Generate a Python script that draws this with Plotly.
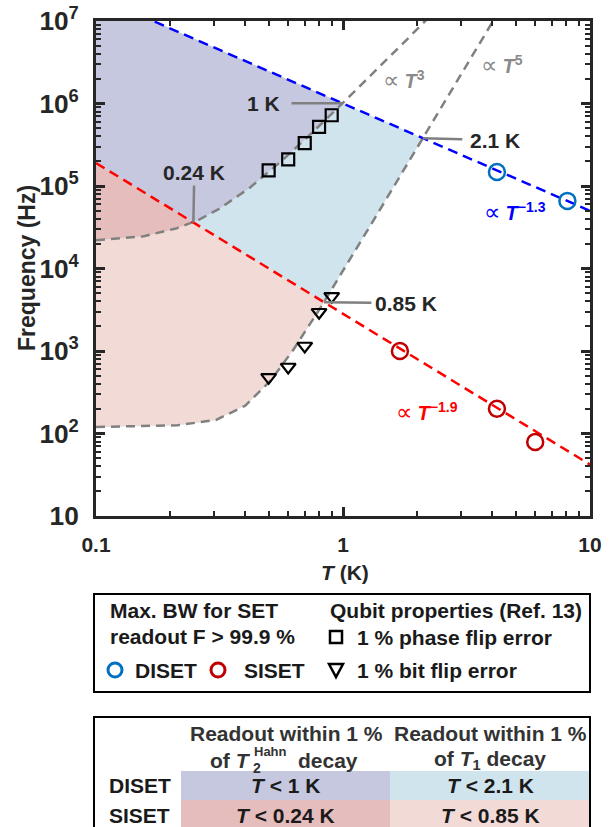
import numpy as np
import plotly.graph_objects as go

# ---------------- data ----------------
# qubit properties (Ref. 13)
T_phase = [0.5, 0.6, 0.7, 0.8, 0.9]
f_phase = [1.55e5, 2.1e5, 3.3e5, 5.2e5, 7.2e5]
T_bit = [0.5, 0.6, 0.7, 0.8, 0.9]
f_bit = [480, 640, 1150, 2950, 4600]
# max. bandwidth for SET readout
T_diset = [4.2, 8.1]
f_diset = [1.48e5, 6.6e4]
T_siset = [1.7, 4.2, 6.0]
f_siset = [1000, 200, 79]
# power-law fits (end points of the dashed lines)
T_fit_diset = [0.1, 10]
f_fit_diset = [2.0e7, 5.0e4]
T_fit_siset = [0.1, 10]
f_fit_siset = [1.9e5, 42]
# 1 % phase flip error curve (T2 Hahn), ~T^3 at high T
T_curve_T2 = [0.1, 0.15, 0.2, 0.25, 0.3, 0.4, 0.5, 0.6, 0.7, 0.8, 0.9, 1.0, 1.3, 1.7, 2.2]
f_curve_T2 = [2.2e4, 2.4e4, 2.9e4, 3.65e4, 4.8e4, 8.5e4, 1.46e5, 2.37e5, 3.64e5,
              5.3e5, 7.5e5, 1.02e6, 2.2e6, 4.9e6, 1.07e7]
# 1 % bit flip error curve (T1), ~T^5 at high T
T_curve_T1 = [0.1, 0.2, 0.3, 0.4, 0.5, 0.6, 0.7, 0.8, 0.9, 1.0, 1.5, 2.0, 3.0, 4.1]
f_curve_T1 = [120, 123, 142, 214, 408, 836, 1670, 3140, 5550, 9300, 7.0e4, 2.95e5, 2.24e6, 1.06e7]

x_tick_vals = [0.1, 1, 10]
y_range_log = [1, 7]

# ---------------- styling ----------------
FONT = "Liberation Sans, Arial, Helvetica, sans-serif"
DARK = "#262626"
C_PURPLE = "#c5c8df"
C_LBLUE = "#d0e4ee"
C_DPINK = "#e6bdbd"
C_LPINK = "#f2dbd6"
C_GRAY = "#808080"
C_DISET = "#0070c0"
C_SISET = "#c00000"

W, H = 615, 827
PL, PR, PT, PB = 96, 590, 21, 516


def xp(px):
    return (px - PL) / (PR - PL)


def yp(py):
    return (PB - py) / (PB - PT)


def loginterp(T, xs, ys):
    return 10 ** np.interp(np.log10(T), np.log10(xs), np.log10(ys))


def crossing(lT, lf, cT, cf):
    T = 10 ** np.linspace(-1, 1, 20001)
    d = np.log10(loginterp(T, lT, lf)) - np.log10(loginterp(T, cT, cf))
    i = np.where((d[:-1] > 0) & (d[1:] <= 0))[0][0]
    return T[i], loginterp(T[i], lT, lf)


def region(lT, lf, cT, cf):
    Tx, _ = crossing(lT, lf, cT, cf)
    Tg = 10 ** np.linspace(-1, np.log10(Tx), 400)
    lo = loginterp(Tg, cT, cf)
    hi = loginterp(Tg, lT, lf)
    return np.concatenate([Tg, Tg[::-1]]), np.concatenate([lo, hi[::-1]])


fig = go.Figure()

# shaded regions
for (lT, lf, cT, cf, col) in [
    (T_fit_diset, f_fit_diset, T_curve_T1, f_curve_T1, C_LBLUE),
    (T_fit_diset, f_fit_diset, T_curve_T2, f_curve_T2, C_PURPLE),
    (T_fit_siset, f_fit_siset, T_curve_T1, f_curve_T1, C_LPINK),
    (T_fit_siset, f_fit_siset, T_curve_T2, f_curve_T2, C_DPINK),
]:
    xs, ys = region(lT, lf, cT, cf)
    fig.add_trace(go.Scatter(x=xs, y=ys, mode="lines", fill="toself", fillcolor=col,
                             line=dict(width=0), hoverinfo="skip", showlegend=False))

# gray model curves
for cT, cf in [(T_curve_T2, f_curve_T2), (T_curve_T1, f_curve_T1)]:
    Tg = 10 ** np.linspace(np.log10(cT[0]), np.log10(cT[-1]), 300)
    fig.add_trace(go.Scatter(x=Tg, y=loginterp(Tg, cT, cf), mode="lines",
                             line=dict(color=C_GRAY, width=2.5, dash="9px,6px"),
                             hoverinfo="skip", showlegend=False))

# fit lines
fig.add_trace(go.Scatter(x=T_fit_diset, y=f_fit_diset, mode="lines",
                         line=dict(color="#0000ff", width=2.5, dash="10px,6px"), showlegend=False))
fig.add_trace(go.Scatter(x=T_fit_siset, y=f_fit_siset, mode="lines",
                         line=dict(color="#ff0000", width=2.5, dash="10px,6px"), showlegend=False))

# markers
fig.add_trace(go.Scatter(x=T_phase, y=f_phase, mode="markers",
                         marker=dict(symbol="square-open", size=12, color="black", line=dict(width=2.2)),
                         showlegend=False))
fig.add_trace(go.Scatter(x=T_bit, y=f_bit, mode="markers",
                         marker=dict(symbol="triangle-down-open", size=13, color="black", line=dict(width=2.2)),
                         showlegend=False))
fig.add_trace(go.Scatter(x=T_diset, y=f_diset, mode="markers",
                         marker=dict(symbol="circle-open", size=16, color=C_DISET, line=dict(width=2.5)),
                         showlegend=False))
fig.add_trace(go.Scatter(x=T_siset, y=f_siset, mode="markers",
                         marker=dict(symbol="circle-open", size=16, color=C_SISET, line=dict(width=2.5)),
                         showlegend=False))

annotations = []


def ann(text, x, y, size=21, color="#1a1a1a", xanchor="center", yanchor="middle", weight="bold", **kw):
    d = dict(text=text, x=xp(x), y=yp(y), xref="paper", yref="paper", showarrow=False,
             xanchor=xanchor, yanchor=yanchor,
             font=dict(family=FONT, size=size, color=color, weight=weight))
    d.update(kw)
    annotations.append(d)


# leader annotations at the intersections
def leader(text, pt, ax, ay, bp):
    Tx, fx = pt
    annotations.append(dict(text=text, x=np.log10(Tx), y=np.log10(fx), xref="x", yref="y",
                            showarrow=True, arrowhead=0, arrowwidth=2.5, arrowcolor=C_GRAY,
                            ax=ax, ay=ay, standoff=0, borderpad=bp,
                            font=dict(family=FONT, size=21, color=DARK, weight="bold")))


leader("1 K", crossing(T_fit_diset, f_fit_diset, T_curve_T2, f_curve_T2), -79, 0, 11)
leader("0.24 K", crossing(T_fit_siset, f_fit_siset, T_curve_T2, f_curve_T2), 1, -50, 1)
leader("2.1 K", crossing(T_fit_diset, f_fit_diset, T_curve_T1, f_curve_T1), 72, 2, 7)
leader("0.85 K", crossing(T_fit_siset, f_fit_siset, T_curve_T1, f_curve_T1), 82, 1, 3)

# power-law labels
ann("<span style='font-size:23px'>∝</span> <b><i>T</i><sup>3</sup></b>", 404, 80, size=20,
    color="#8a8a8a", weight="normal")
ann("<span style='font-size:23px'>∝</span> <b><i>T</i><sup>5</sup></b>", 502, 65, size=20,
    color="#8a8a8a", weight="normal")
ann("<span style='font-size:23px'>∝</span> <b><i>T</i><sup>−1.3</sup></b>", 515, 212, size=20,
    color="#0000ff", weight="normal")
ann("<span style='font-size:23px'>∝</span> <b><i>T</i><sup>−1.9</sup></b>", 427, 412, size=20,
    color="#ff0000", weight="normal")

# axis titles
ann("Frequency (Hz)", 27, 268, size=23, color=DARK, textangle=-90)
ann("<i>T</i> (K)", 345, 572, size=21, color=DARK)

# legend box
ann("Max. BW for SET", 108, 610, xanchor="left")
ann("readout F &gt; 99.9 %", 108, 636, xanchor="left")
ann("DISET", 133, 670, xanchor="left")
ann("SISET", 242, 670, xanchor="left")
ann("Qubit properties (Ref. 13)", 328, 610, xanchor="left")
ann("1 % phase flip error", 355, 637, xanchor="left")
ann("1 % bit flip error", 355, 670, xanchor="left")

# table
ann("Readout within 1 %", 286, 733, color="#333333")
ann("Readout within 1 %", 490, 733, color="#333333")
ann("of <i>T</i>", 253, 760, color="#333333", xanchor="right")
ann("Hahn", 252, 751, size=13, color="#333333", xanchor="left")
ann("2", 251, 768, size=14, color="#333333", xanchor="left")
ann("decay", 296, 760, color="#333333", xanchor="left")
ann("of <i>T</i><sub>1</sub> decay", 490, 760, color="#333333")
ann("DISET", 107, 785, xanchor="left")
ann("SISET", 107, 815, xanchor="left")
ann("<i>T</i> &lt; 1 K", 285, 785)
ann("<i>T</i> &lt; 2.1 K", 490, 785)
ann("<i>T</i> &lt; 0.24 K", 285, 815)
ann("<i>T</i> &lt; 0.85 K", 490, 815)

shapes = []


def rect(x0, y0, x1, y1, fill=None, line=None, lw=0):
    shapes.append(dict(type="rect", xref="paper", yref="paper",
                       x0=xp(x0), x1=xp(x1), y0=yp(y1), y1=yp(y0),
                       fillcolor=fill if fill else "rgba(0,0,0,0)",
                       line=dict(color=line if line else "rgba(0,0,0,0)", width=lw)))


rect(181, 771, 390, 800, fill=C_PURPLE)
rect(390, 771, 590, 800, fill=C_LBLUE)
rect(181, 800, 390, 840, fill=C_DPINK)
rect(390, 800, 590, 840, fill=C_LPINK)
rect(94, 594, 590, 692, line="black", lw=2)
rect(94, 717, 590, 840, line="black", lw=2)

# legend symbols
shapes.append(dict(type="circle", xref="paper", yref="paper", x0=xp(108), x1=xp(122),
                   y0=yp(677), y1=yp(663), line=dict(color=C_DISET, width=3)))
shapes.append(dict(type="circle", xref="paper", yref="paper", x0=xp(211), x1=xp(225),
                   y0=yp(677), y1=yp(663), line=dict(color=C_SISET, width=3)))
rect(330, 631, 342, 643, line="black", lw=2.5)
shapes.append(dict(type="path", xref="paper", yref="paper",
                   path=f"M {xp(329)},{yp(664)} L {xp(343)},{yp(664)} L {xp(336)},{yp(677)} Z",
                   line=dict(color="black", width=2.5)))

axis_common = dict(type="log", showline=True, linecolor=DARK, linewidth=3, mirror="ticks",
                   ticks="inside", ticklen=9, tickwidth=2.5, tickcolor=DARK,
                   showgrid=False, zeroline=False, dtick=1,
                   minor=dict(ticks="inside", ticklen=5, tickwidth=2, tickcolor=DARK,
                              dtick="D1", showgrid=False),
                   tickfont=dict(family=FONT, size=21, color=DARK, weight="bold"))

fig.update_layout(
    width=W, height=H,
    margin=dict(l=PL, r=W - PR, t=PT, b=H - PB, autoexpand=False),
    plot_bgcolor="white", paper_bgcolor="white",
    xaxis=dict(axis_common, range=[np.log10(x_tick_vals[0]), np.log10(x_tick_vals[-1])],
               ticklabelstandoff=8),
    yaxis=dict(axis_common, range=y_range_log, exponentformat="power", showexponent="all",
               ticklabelstandoff=10),
    annotations=annotations,
    shapes=shapes,
    showlegend=False,
)

fig.write_html("out.html", config={"displayModeBar": False},
               post_script="document.body.style.margin='0px';document.body.style.overflow='hidden';")
